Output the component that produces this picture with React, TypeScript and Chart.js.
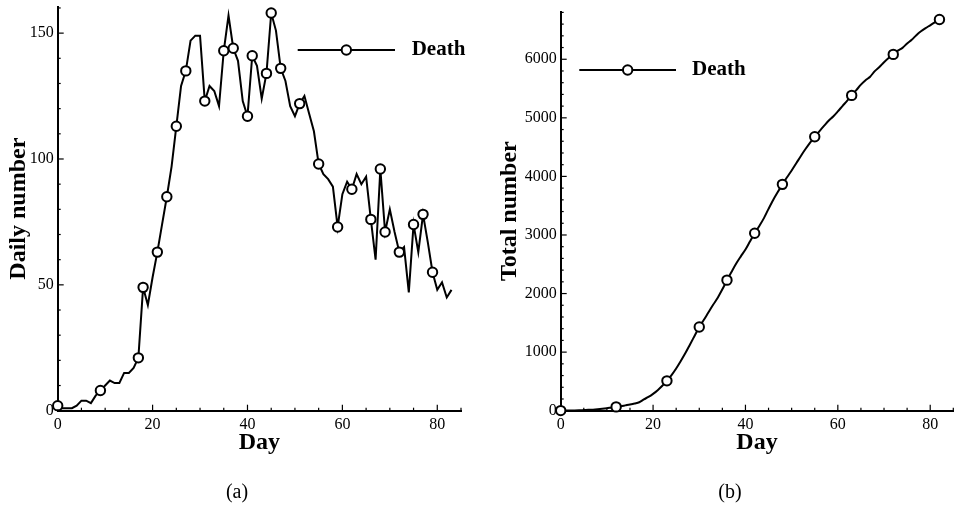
import React, { useEffect, useRef } from "react";
import { Chart, registerables } from "chart.js";

Chart.register(...registerables);

// ---------- data ----------
const dayLabels = [
  0, 1, 2, 3, 4, 5, 6, 7, 8, 9, 10, 11, 12, 13, 14, 15, 16, 17, 18, 19, 20,
  21, 22, 23, 24, 25, 26, 27, 28, 29, 30, 31, 32, 33, 34, 35, 36, 37, 38, 39,
  40, 41, 42, 43, 44, 45, 46, 47, 48, 49, 50, 51, 52, 53, 54, 55, 56, 57, 58,
  59, 60, 61, 62, 63, 64, 65, 66, 67, 68, 69, 70, 71, 72, 73, 74, 75, 76, 77,
  78, 79, 80, 81, 82, 83,
];

const dailyDeaths = [
  2, 1, 1, 1, 2, 4, 4, 3, 6, 8, 10, 12, 11, 11, 15, 15, 17, 21, 49, 42, 53,
  63, 74, 85, 97, 113, 129, 135, 147, 149, 149, 123, 129, 127, 121, 143, 157,
  144, 139, 123, 117, 141, 137, 124, 134, 158, 151, 136, 131, 121, 117, 122,
  125, 118, 111, 98, 94, 92, 89, 73, 86, 91, 88, 94, 90, 93, 76, 60, 96, 71,
  80, 71, 63, 65, 47, 74, 63, 78, 67, 55, 48, 51, 45, 48,
];

const totalDeaths = [
  2, 3, 4, 5, 7, 11, 15, 18, 24, 32, 42, 54, 65, 76, 91, 106, 123, 144, 193,
  235, 288, 351, 425, 510, 607, 720, 849, 984, 1131, 1280, 1429, 1552, 1681,
  1808, 1929, 2072, 2229, 2373, 2512, 2635, 2752, 2893, 3030, 3154, 3288,
  3446, 3597, 3733, 3864, 3985, 4102, 4224, 4349, 4467, 4578, 4676, 4770,
  4862, 4951, 5024, 5110, 5201, 5289, 5383, 5473, 5566, 5642, 5702, 5798,
  5869, 5949, 6020, 6083, 6148, 6195, 6269, 6332, 6410, 6477, 6532, 6580,
  6631, 6680,
];

// days on which a symbol is drawn
const dailyMarkerDays = [
  0, 9, 17, 18, 21, 23, 25, 27, 31, 35, 37, 40, 41, 44, 45, 47, 51, 55, 59,
  62, 66, 68, 69, 72, 75, 77, 79,
];
const totalMarkerDays = [0, 12, 23, 30, 36, 42, 48, 55, 63, 72, 82];

const xTickValues = [0, 20, 40, 60, 80];
const dailyYTickValues = [0, 50, 100, 150];
const totalYTickValues = [0, 1000, 2000, 3000, 4000, 5000, 6000];

const seriesName = "Death";
const xTitle = "Day";
const dailyYTitle = "Daily number";
const totalYTitle = "Total number";

// ---------- helpers ----------
const SERIF = "'Liberation Serif', 'Times New Roman', serif";

function inwardTicks(xMinor: number, xMajor: number, yMinor: number, yMajor: number) {
  return {
    id: "inwardTicks",
    beforeDatasetsDraw(chart: any) {
      const { ctx, chartArea, scales } = chart;
      const xs = scales.x;
      const ys = scales.y;
      ctx.save();
      ctx.strokeStyle = "#000";
      ctx.lineWidth = 1.2;
      const isMajor = (v: number, step: number) =>
        Math.abs(v / step - Math.round(v / step)) < 1e-6;
      for (let v = xs.min; v <= xs.max + 1e-9; v += xMinor) {
        const px = xs.getPixelForValue(v);
        const len = isMajor(v, xMajor) ? 6 : 3;
        ctx.beginPath();
        ctx.moveTo(px, chartArea.bottom);
        ctx.lineTo(px, chartArea.bottom - len);
        ctx.stroke();
      }
      for (let v = ys.min; v <= ys.max + 1e-9; v += yMinor) {
        const py = ys.getPixelForValue(v);
        const len = isMajor(v, yMajor) ? 6 : 3;
        ctx.beginPath();
        ctx.moveTo(chartArea.left, py);
        ctx.lineTo(chartArea.left + len, py);
        ctx.stroke();
      }
      ctx.restore();
    },
  };
}

function lineLegend(x1: number, x2: number, y: number, textX: number) {
  return {
    id: "lineLegend",
    afterDraw(chart: any) {
      const { ctx } = chart;
      ctx.save();
      ctx.strokeStyle = "#000";
      ctx.lineWidth = 2;
      ctx.beginPath();
      ctx.moveTo(x1, y);
      ctx.lineTo(x2, y);
      ctx.stroke();
      ctx.beginPath();
      ctx.arc((x1 + x2) / 2, y, 4.7, 0, Math.PI * 2);
      ctx.fillStyle = "#fff";
      ctx.fill();
      ctx.stroke();
      ctx.fillStyle = "#000";
      ctx.font = `bold 21px ${SERIF}`;
      ctx.textAlign = "left";
      ctx.textBaseline = "middle";
      ctx.fillText(seriesName, textX, y);
      ctx.restore();
    },
  };
}

type PanelCfg = {
  values: number[];
  markerDays: number[];
  yTicks: number[];
  yMax: number;
  yTitle: string;
  yAxisWidth: number;
  yTitlePad: number;
  padTop: number;
  padRight: number;
  tension: number;
  yMinor: number;
  yMajor: number;
  legend: [number, number, number, number];
};

function buildChart(canvas: HTMLCanvasElement, cfg: PanelCfg) {
  const points = cfg.values.map((v, i) => ({ x: dayLabels[i], y: v }));
  const radii = cfg.values.map((_, i) =>
    cfg.markerDays.includes(dayLabels[i]) ? 4.7 : 0
  );
  const xAxisHeight = 60;
  return new Chart(canvas, {
    type: "line",
    data: {
      datasets: [
        {
          label: seriesName,
          data: points,
          borderColor: "#000",
          borderWidth: 2,
          pointRadius: radii,
          pointBorderWidth: 2,
          pointBorderColor: "#000",
          pointBackgroundColor: "#fff",
          tension: cfg.tension,
          cubicInterpolationMode: cfg.tension > 0 ? "monotone" : "default",
          clip: false as any,
        },
      ],
    },
    options: {
      animation: false,
      responsive: false,
      maintainAspectRatio: false,
      events: [],
      layout: {
        padding: {
          left: 0,
          top: cfg.padTop,
          right: cfg.padRight,
          bottom: 507 - 410.7 - xAxisHeight,
        },
      },
      plugins: {
        legend: { display: false },
        tooltip: { enabled: false },
      },
      scales: {
        x: {
          type: "linear",
          min: 0,
          max: 85,
          grid: { display: false, drawTicks: false },
          border: { display: true, color: "#000", width: 2 },
          ticks: {
            color: "#000",
            font: { family: SERIF, size: 16 },
            padding: 4,
            maxRotation: 0,
            callback: (v: any) => String(v),
          },
          afterBuildTicks: (scale: any) => {
            scale.ticks = xTickValues.map((v) => ({ value: v }));
          },
          afterFit: (scale: any) => {
            scale.height = xAxisHeight;
            scale.paddingLeft = 0;
            scale.paddingRight = 0;
          },
          title: {
            display: true,
            text: xTitle,
            color: "#000",
            font: { family: SERIF, size: 24, weight: "bold" },
            padding: { top: 0, bottom: 14 },
          },
        },
        y: {
          type: "linear",
          min: 0,
          max: cfg.yMax,
          grid: { display: false, drawTicks: false },
          border: { display: true, color: "#000", width: 2 },
          ticks: {
            color: "#000",
            font: { family: SERIF, size: 16 },
            padding: 4,
            callback: (v: any) => String(v),
          },
          afterBuildTicks: (scale: any) => {
            scale.ticks = cfg.yTicks.map((v) => ({ value: v }));
          },
          afterFit: (scale: any) => {
            scale.width = cfg.yAxisWidth;
            scale.paddingTop = 0;
            scale.paddingBottom = 0;
          },
          title: {
            display: true,
            text: cfg.yTitle,
            color: "#000",
            font: { family: SERIF, size: 24, weight: "bold" },
            padding: { top: cfg.yTitlePad, bottom: 0 },
          },
        },
      },
    },
    plugins: [
      inwardTicks(5, 20, cfg.yMinor, cfg.yMajor),
      lineLegend(cfg.legend[0], cfg.legend[1], cfg.legend[2], cfg.legend[3]),
    ],
  } as any);
}

export default function App() {
  const leftRef = useRef<HTMLCanvasElement | null>(null);
  const rightRef = useRef<HTMLCanvasElement | null>(null);

  useEffect(() => {
    const a = buildChart(leftRef.current!, {
      values: dailyDeaths,
      markerDays: dailyMarkerDays,
      yTicks: dailyYTickValues,
      yMax: 160.5,
      yTitle: dailyYTitle,
      yAxisWidth: 57.7,
      yTitlePad: 4,
      padTop: 6.7,
      padRight: 19,
      tension: 0,
      yMinor: 10,
      yMajor: 50,
      legend: [297.7, 395, 50, 411.7],
    });
    const b = buildChart(rightRef.current!, {
      values: totalDeaths.slice(),
      markerDays: totalMarkerDays,
      yTicks: totalYTickValues,
      yMax: 6812,
      yTitle: totalYTitle,
      yAxisWidth: 80.7,
      yTitlePad: 15.6,
      padTop: 11.7,
      padRight: 1,
      tension: 0.3,
      yMinor: 200,
      yMajor: 1000,
      legend: [99.3, 196, 70, 212],
    });
    return () => {
      a.destroy();
      b.destroy();
    };
  }, []);

  const caption: React.CSSProperties = {
    position: "absolute",
    top: 479,
    width: 100,
    textAlign: "center",
    fontFamily: SERIF,
    fontSize: 20,
    lineHeight: "24px",
    color: "#000",
  };

  return (
    <div
      style={{
        position: "absolute",
        left: 0,
        top: 0,
        width: 960,
        height: 507,
        background: "#fff",
        overflow: "hidden",
      }}
    >
      <canvas
        ref={leftRef}
        width={480}
        height={507}
        style={{ position: "absolute", left: 0, top: 0, display: "block" }}
      />
      <canvas
        ref={rightRef}
        width={480}
        height={507}
        style={{ position: "absolute", left: 480, top: 0, display: "block" }}
      />
      <div style={{ ...caption, left: 237 - 50 }}>(a)</div>
      <div style={{ ...caption, left: 730 - 50 }}>(b)</div>
    </div>
  );
}
